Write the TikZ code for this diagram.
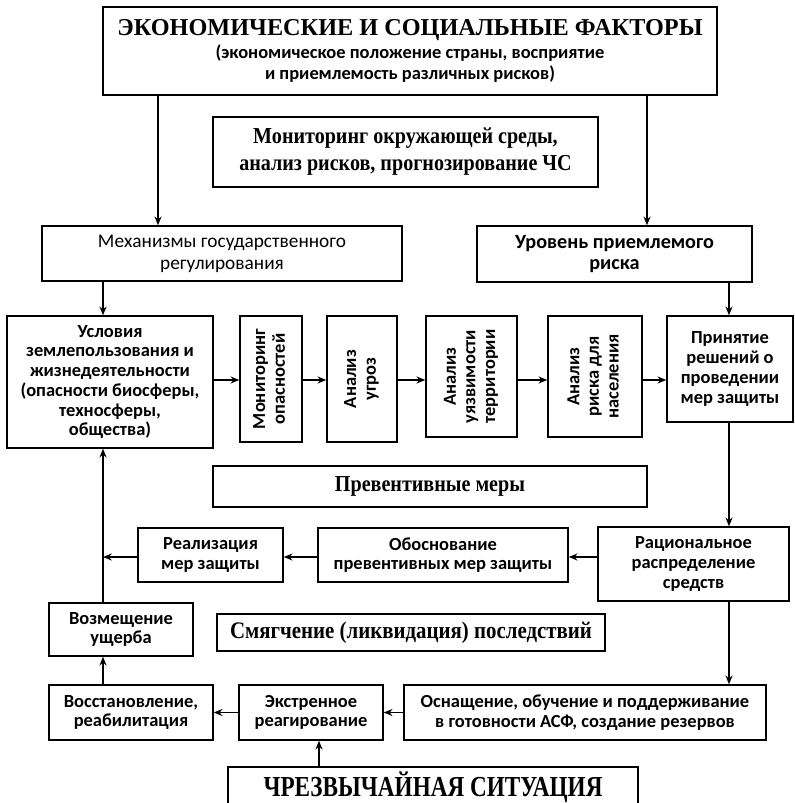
\documentclass[tikz,border=0pt]{standalone}
\usepackage{fontspec}
\setmainfont{Liberation Serif}
\newfontfamily\calib{Carlito}
\newfontfamily\timesn[FakeStretch=0.88]{Liberation Serif}
\newfontfamily\timesc[FakeStretch=0.8]{Liberation Serif}
\usetikzlibrary{arrows.meta, positioning}
\newcommand{\vlabel}[1]{\rotatebox{90}{\begin{tabular}{@{}c@{}}#1\end{tabular}}}

\begin{document}
\begin{tikzpicture}[
  x=0.02cm, y=-0.02cm,
  box/.style={draw, line width=0.8pt, align=center, inner sep=1pt},
  arrow/.style={-{Stealth[length=5pt, width=4pt]}, line width=0.8pt},
  lab/.style={font=\calib\bfseries\fontsize{10.5}{11.2}\selectfont},
  labthin/.style={font=\calib\fontsize{11}{12.4}\selectfont},
  head/.style={font=\timesn\bfseries\fontsize{13}{15.4}\selectfont},
  headn/.style={font=\timesn\bfseries\fontsize{13.5}{16}\selectfont},
]
\path[use as bounding box, clip] (0,0) rectangle (794,803);

% Top blocks
\node[box, minimum width=12.28cm, minimum height=1.76cm] (econ) at (410,51)
  {{\bfseries\fontsize{13.8}{15}\selectfont ЭКОНОМИЧЕСКИЕ И СОЦИАЛЬНЫЕ ФАКТОРЫ}\\[1.5pt]
   {\calib\bfseries\fontsize{10.5}{12}\selectfont (экономическое положение страны, восприятие}\\
   {\calib\bfseries\fontsize{10.5}{12}\selectfont и приемлемость различных рисков)}};
\node[box, head, minimum width=7.7cm, minimum height=1.4cm] (mon) at (405.5,152)
  {Мониторинг окружающей среды,\\анализ рисков, прогнозирование ЧС};
\node[box, labthin, minimum width=7.2cm, minimum height=1.1cm] (mech) at (222,253.5)
  {Механизмы государственного\\регулирования};
\node[box, lab, font=\calib\bfseries\fontsize{11.5}{12.4}\selectfont,
  minimum width=5.5cm, minimum height=1.12cm] (level) at (614.5,254)
  {Уровень приемлемого\\риска};

% Analysis chain
\node[box, lab, minimum width=4.12cm, minimum height=2.64cm] (cond) at (110,382)
  {Условия\\землепользования и\\жизнедеятельности\\(опасности биосферы,\\техносферы,\\общества)};
\node[box, lab, minimum width=1.24cm, minimum height=2.52cm] (hz) at (271,379)
  {\vlabel{Мониторинг\\опасностей}};
\node[box, lab, minimum width=1.4cm, minimum height=2.52cm] (thr) at (362,379)
  {\vlabel{Анализ\\угроз}};
\node[box, lab, minimum width=1.82cm, minimum height=2.42cm] (vul) at (471.5,376.5)
  {\vlabel{Анализ\\уязвимости\\территории}};
\node[box, lab, minimum width=1.88cm, minimum height=2.42cm] (rsk) at (595,376.5)
  {\vlabel{Анализ\\риска для\\населения}};
\node[box, lab, minimum width=2.52cm, minimum height=2.12cm] (dec) at (730,369)
  {Принятие\\решений о\\проведении\\мер защиты};

% Preventive measures
\node[box, head, minimum width=8.68cm, minimum height=0.82cm] (prev) at (430,486.5)
  {Превентивные меры};
\node[box, lab, minimum width=3.82cm, minimum height=1.48cm] (rat) at (693.5,564)
  {Рациональное\\распределение\\средств};
\node[box, lab, minimum width=5.0cm, minimum height=1.08cm] (just) at (443,555)
  {Обоснование\\превентивных мер защиты};
\node[box, lab, minimum width=2.9cm, minimum height=1.08cm] (impl) at (210.5,555)
  {Реализация\\мер защиты};

% Mitigation
\node[box, lab, minimum width=2.88cm, minimum height=1.06cm] (comp) at (121,629.5)
  {Возмещение\\ущерба};
\node[box, headn, minimum width=7.76cm, minimum height=0.74cm] (mit) at (411,632.5)
  {Смягчение (ликвидация) последствий};
\node[box, lab, minimum width=7.24cm, minimum height=1.1cm] (equip) at (585,712.5)
  {Оснащение, обучение и поддерживание\\в готовности АСФ, создание резервов};
\node[box, lab, minimum width=2.88cm, minimum height=1.1cm] (emerg) at (311,712.5)
  {Экстренное\\реагирование};
\node[box, lab, minimum width=3.28cm, minimum height=1.1cm] (rest) at (131,712.5)
  {Восстановление,\\реабилитация};
\node[box, font=\timesc\bfseries\fontsize{16.5}{18}\selectfont,
  minimum width=8.2cm, minimum height=0.82cm] (cs) at (433,787.5) {ЧРЕЗВЫЧАЙНАЯ СИТУАЦИЯ};

% Lines
\coordinate (colL) at (103,0);
\coordinate (colR) at (729,0);
\coordinate (inL) at (158,0);
\coordinate (inR) at (647,0);
\coordinate (csIn) at (319,0);
\coordinate (rowA) at (0,380);
\coordinate (rowB) at (0,557);

% Arrows
\draw[arrow] (econ.south -| inL) -- (mech.north -| inL);
\draw[arrow] (econ.south -| inR) -- (level.north -| inR);
\draw[arrow] (mech.south -| colL) -- (cond.north -| colL);
\draw[arrow] (level.south -| colR) -- (dec.north -| colR);
\draw[arrow] (cond.east |- rowA) -- (hz.west |- rowA);
\draw[arrow] (hz.east |- rowA) -- (thr.west |- rowA);
\draw[arrow] (thr.east |- rowA) -- (vul.west |- rowA);
\draw[arrow] (vul.east |- rowA) -- (rsk.west |- rowA);
\draw[arrow] (rsk.east |- rowA) -- (dec.west |- rowA);
\draw[arrow] (dec.south -| colR) -- (rat.north -| colR);
\draw[arrow] (rat.west |- rowB) -- (just.east |- rowB);
\draw[arrow] (just.west |- rowB) -- (impl.east |- rowB);
\draw[arrow] (impl.west |- rowB) -- (colL |- rowB);
\draw[arrow] (comp.north -| colL) -- (cond.south -| colL);
\draw[arrow] (rat.south -| colR) -- (equip.north -| colR);
\draw[arrow] (equip) -- (emerg);
\draw[arrow] (emerg) -- (rest);
\draw[arrow] (rest.north -| colL) -- (comp.south -| colL);
\draw[arrow] (cs.north -| csIn) -- (emerg.south -| csIn);

\end{tikzpicture}
\end{document}
